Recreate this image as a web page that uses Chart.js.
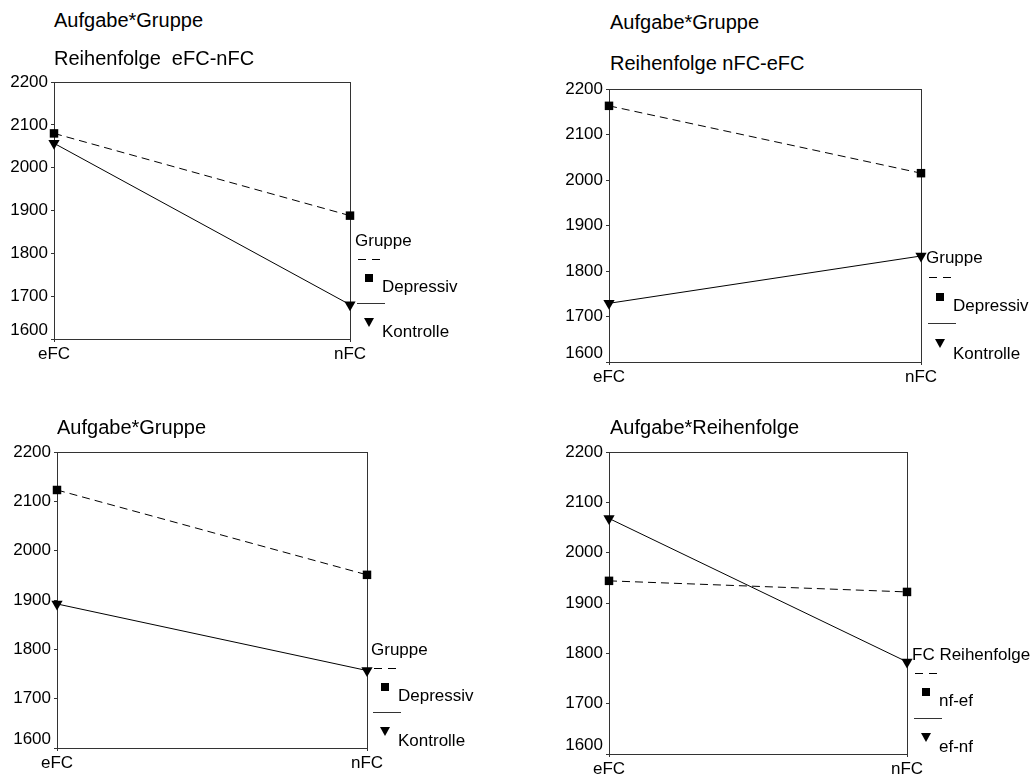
<!DOCTYPE html>
<html>
<head>
<meta charset="utf-8">
<script src="https://cdn.jsdelivr.net/npm/chart.js@4.4.1/dist/chart.umd.min.js"></script>
<style>
  body { margin: 0; background: #fff; width: 1034px; height: 777px; position: relative; overflow: hidden;
         font-family: "Liberation Sans", Arial, sans-serif; color: #000; }
  canvas, .t, .lt, .dash, .solid, .sq, .tri { position: absolute; }
  .t { font-size: 20px; line-height: 20px; white-space: pre; }
  .lt { font-size: 17px; line-height: 18px; white-space: pre; }
  .dash { height: 1px; background: repeating-linear-gradient(90deg, #000 0 8px, transparent 8px 14px); }
  .solid { height: 1px; background: #333; }
  .sq { width: 8px; height: 8px; background: #000; }
  .tri { width: 0; height: 0; border-left: 5px solid transparent; border-right: 5px solid transparent; border-top: 9px solid #000; }
</style>
</head>
<body>
<canvas id="c1"></canvas>
<canvas id="c2"></canvas>
<canvas id="c3"></canvas>
<canvas id="c4"></canvas>
<script>
// Werte
var aufgaben = ["eFC", "nFC"];
var yMin = 1600, yMax = 2200, yStep = 100;

var enDepressiv = [2080, 1888];   // Reihenfolge eFC-nFC
var enKontrolle = [2057, 1680];
var neDepressiv = [2163, 2015];   // Reihenfolge nFC-eFC
var neKontrolle = [1729, 1833];
var allDepressiv = [2123, 1951];  // Aufgabe*Gruppe gesamt
var allKontrolle = [1892, 1757];
var nfEf = [1944, 1922];          // Aufgabe*Reihenfolge
var efNf = [2068, 1783];

var rahmen = {
    id: "rahmen",
    beforeDraw(chart) {
        // unterste Y-Beschriftung etwas nach oben schieben, wie im Original
        var items = chart.scales.y.getLabelItems();
        items.forEach(function (it) {
            if (it.label === String(yMin) && !it._moved) {
                it.options.translation[1] -= 9;
                it._moved = true;
            }
        });
    },
    beforeDatasetsDraw(chart) {
        var a = chart.chartArea, ctx = chart.ctx;
        ctx.save();
        ctx.strokeStyle = "#333";
        ctx.lineWidth = 1;
        ctx.strokeRect(Math.round(a.left) + 0.5, Math.round(a.top) + 0.5,
            Math.round(a.right - a.left), Math.round(a.bottom - a.top));
        ctx.restore();
    }
};

function addText(cls, text, x, yc, h) {
    var d = document.createElement("div");
    d.className = cls;
    d.textContent = text;
    d.style.left = x + "px";
    d.style.top = (yc - h / 2) + "px";
    document.body.appendChild(d);
}

function addBox(cls, x, y, w) {
    var d = document.createElement("div");
    d.className = cls;
    d.style.left = x + "px";
    d.style.top = y + "px";
    if (w) d.style.width = w + "px";
    document.body.appendChild(d);
}

function legende(titel, labels, x0, y0, s) {
    addText("lt", titel, x0, y0, 18);
    addBox("dash", x0 + 3, Math.round(y0 + 18 * s), 23);
    addBox("sq", x0 + 10, Math.round(y0 + 37 * s) - 4);
    addText("lt", labels[0], x0 + 27, y0 + 46 * s, 18);
    addBox("solid", x0 + 2, Math.round(y0 + 62 * s), 28);
    addBox("tri", x0 + 9, Math.round(y0 + 82 * s) - 5);
    addText("lt", labels[1], x0 + 27, y0 + 91 * s, 18);
}

function panel(id, area, reihe1, reihe2, labels) {
    var padL = 60, padT = 15, padR = 20, padB = 40;
    var cv = document.getElementById(id);
    cv.width = (area.r - area.l) + padL + padR;
    cv.height = (area.b - area.t) + padT + padB;
    cv.style.left = (area.l - padL) + "px";
    cv.style.top = (area.t - padT) + "px";

    return new Chart(cv.getContext("2d"), {
        type: "line",
        data: {
            labels: aufgaben,
            datasets: [{
                label: labels[0],
                data: reihe1,
                borderColor: "#000",
                borderWidth: 1,
                borderDash: [8, 5],
                pointStyle: "rect",
                pointRadius: 6,
                pointBackgroundColor: "#000",
                pointBorderWidth: 0,
                tension: 0
            }, {
                label: labels[1],
                data: reihe2,
                borderColor: "#000",
                borderWidth: 1,
                pointStyle: "triangle",
                pointRotation: 180,
                pointRadius: 6.5,
                pointBackgroundColor: "#000",
                pointBorderWidth: 0,
                tension: 0
            }]
        },
        options: {
            responsive: false,
            animation: false,
            layout: { padding: { left: 0, top: padT, right: padR, bottom: 0 } },
            plugins: { legend: { display: false }, tooltip: { enabled: false } },
            scales: {
                x: {
                    offset: false,
                    afterFit: function (s) { s.height = padB; },
                    grid: { drawOnChartArea: false, tickLength: 3, color: "#333" },
                    border: { display: false },
                    ticks: { color: "#000", padding: 2, font: { family: "'Liberation Sans', Arial", size: 17 } }
                },
                y: {
                    min: yMin,
                    max: yMax,
                    afterFit: function (s) { s.width = padL; },
                    grid: { drawOnChartArea: false, tickLength: 3, color: "#333" },
                    border: { display: false },
                    ticks: {
                        stepSize: yStep, color: "#000", padding: 3,
                        font: { family: "'Liberation Sans', Arial", size: 17 },
                        callback: function (v) { return String(v); }
                    }
                }
            }
        },
        plugins: [rahmen]
    });
}

panel("c1", { l: 54, t: 82, r: 350, b: 339 }, enDepressiv, enKontrolle, ["Depressiv", "Kontrolle"]);
panel("c2", { l: 609, t: 89, r: 921, b: 362 }, neDepressiv, neKontrolle, ["Depressiv", "Kontrolle"]);
panel("c3", { l: 57, t: 452, r: 367, b: 748 }, allDepressiv, allKontrolle, ["Depressiv", "Kontrolle"]);
panel("c4", { l: 609, t: 452, r: 907, b: 754 }, nfEf, efNf, ["nf-ef", "ef-nf"]);

// Titel
addText("t", "Aufgabe*Gruppe", 54, 20, 20);
addText("t", "Reihenfolge  eFC-nFC", 54, 58, 20);
addText("t", "Aufgabe*Gruppe", 610, 22, 20);
addText("t", "Reihenfolge nFC-eFC", 610, 63, 20);
addText("t", "Aufgabe*Gruppe", 57, 427, 20);
addText("t", "Aufgabe*Reihenfolge", 610, 427, 20);

// Legenden
legende("Gruppe", ["Depressiv", "Kontrolle"], 355, 241, 1);
legende("Gruppe", ["Depressiv", "Kontrolle"], 926, 258, 1.05);
legende("Gruppe", ["Depressiv", "Kontrolle"], 371, 650, 1);
legende("FC Reihenfolge", ["nf-ef", "ef-nf"], 912, 655, 1.01);
</script>
</body>
</html>
